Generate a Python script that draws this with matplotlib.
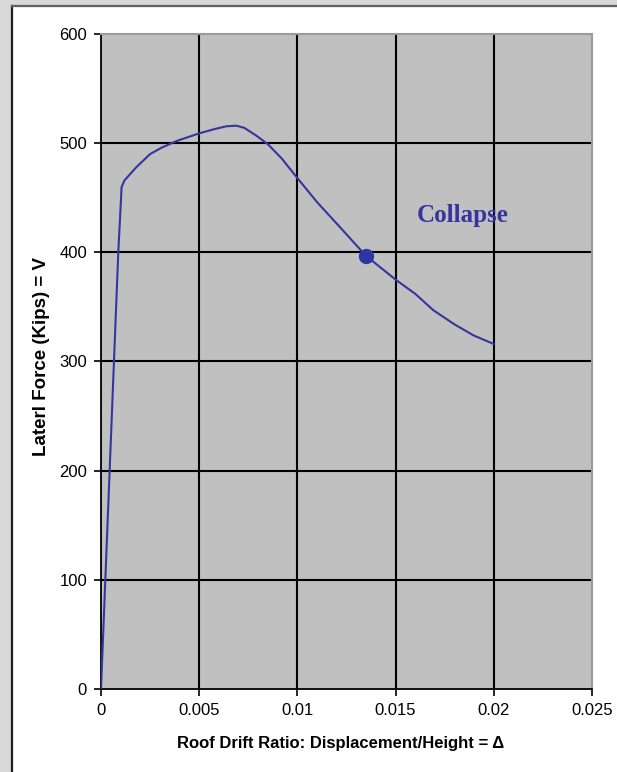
import matplotlib
matplotlib.use("Agg")
import matplotlib.pyplot as plt
import matplotlib.patches as patches

# pushover curve
drift = [0, 0.00044, 0.00088, 0.00105, 0.0012, 0.0015, 0.0018, 0.0025, 0.0031,
         0.00385, 0.005, 0.0058, 0.0064, 0.0069, 0.0073, 0.0079, 0.0085, 0.0092,
         0.01, 0.011, 0.01217, 0.01348, 0.015, 0.016, 0.01692, 0.018, 0.01896, 0.02]
force = [0, 200, 400, 460, 466, 472, 478, 490, 496,
         502, 509, 513, 515.5, 516, 514, 507, 499, 486,
         468, 446, 423, 397, 375, 362, 347, 334, 324, 316]
collapse_pt = (0.01348, 397)
xticks = [0, 0.005, 0.01, 0.015, 0.02, 0.025]
xtick_labels = ["0", "0.005", "0.01", "0.015", "0.02", "0.025"]
yticks = [0, 100, 200, 300, 400, 500, 600]

W, H = 617, 772
fig = plt.figure(figsize=(W / 100, H / 100), dpi=100)
fig.patch.set_facecolor("#d9d9d9")

# white panel with dark top/left edge
fig.patches.append(patches.Rectangle((12 / W, 0), 1, 1 - 7 / H, transform=fig.transFigure,
                                     facecolor="white", edgecolor="none", zorder=-10))
fig.add_artist(plt.Line2D([11.5 / W, 11.5 / W], [0, 1 - 6 / H], transform=fig.transFigure,
                          color="#202020", lw=1.6, zorder=-9))
fig.add_artist(plt.Line2D([11.5 / W, 1], [1 - 6 / H, 1 - 6 / H], transform=fig.transFigure,
                          color="#606060", lw=1.6, zorder=-9))

ax = fig.add_axes([101 / W, (H - 689) / H, (592 - 101) / W, (689 - 34) / H])
ax.set_facecolor("#c0c0c0")

for x in xticks[1:-1]:
    ax.axvline(x, color="black", lw=1.5, zorder=1)
for y in yticks[1:-1]:
    ax.axhline(y, color="black", lw=1.5, zorder=1)

ax.plot(drift, force, color="#35359e", lw=1.5, zorder=3)
ax.plot(*collapse_pt, "o", color="#2b36a0", ms=10, zorder=4)
ax.text(0.0161, 434, "Collapse", family="Liberation Serif", fontweight="bold",
        fontsize=18, color="#3535a0", va="center", ha="left")

ax.set_xlim(0, 0.025)
ax.set_ylim(0, 600)
ax.set_xticks(xticks)
ax.set_xticklabels(xtick_labels)
ax.set_yticks(yticks)

for side in ["top", "right"]:
    ax.spines[side].set_color("#9a9a9a")
    ax.spines[side].set_linewidth(1.5)
for side in ["left", "bottom"]:
    ax.spines[side].set_color("black")
    ax.spines[side].set_linewidth(1.3)

ax.tick_params(direction="out", length=5, width=1.2, color="black",
               labelsize=12, pad=5)
for lab in ax.get_xticklabels() + ax.get_yticklabels():
    lab.set_family("Liberation Sans")

ax.set_xlabel("Roof Drift Ratio: Displacement/Height = Δ", family="Liberation Sans",
              fontweight="bold", fontsize=12)
ax.xaxis.set_label_coords(0.487, -0.071)
ax.set_ylabel("Laterl Force (Kips) = V", family="Liberation Sans",
              fontweight="bold", fontsize=13.5)
ax.yaxis.set_label_coords(-0.104, 0.507)

fig.savefig("out.png", dpi=100, facecolor=fig.get_facecolor())
